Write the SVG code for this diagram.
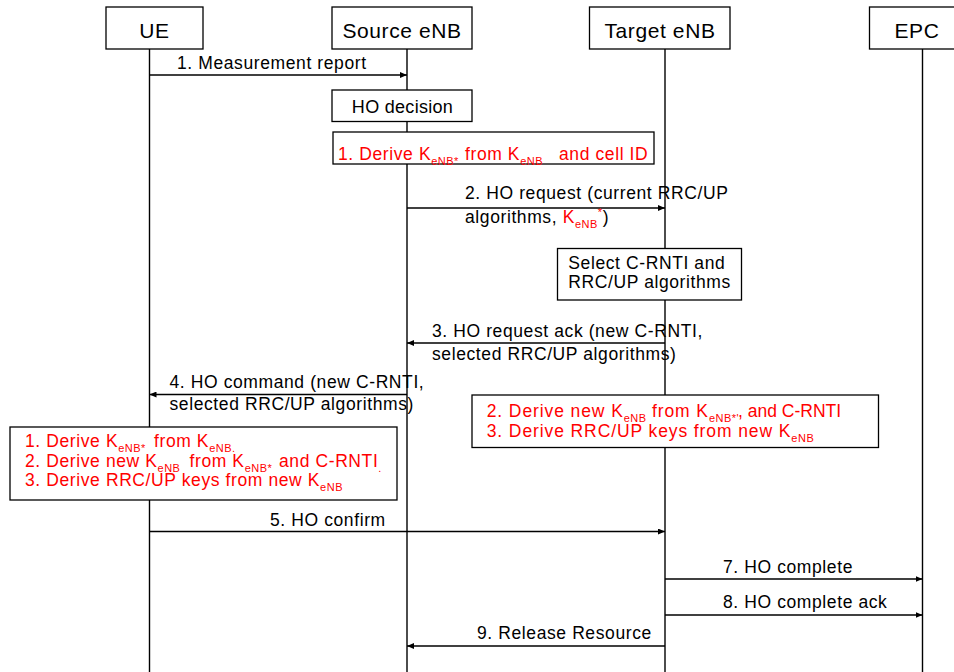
<svg xmlns="http://www.w3.org/2000/svg" width="954" height="672" viewBox="0 0 954 672">
  <defs>
    <marker id="ah" markerUnits="userSpaceOnUse" markerWidth="8" markerHeight="6" refX="7" refY="3" orient="auto">
      <path d="M0,0 L7,3 L0,6 z" fill="#000"/>
    </marker>
    <style>
      text { font-family: "Liberation Sans", Arial, Helvetica, sans-serif; fill: #000; }
      .lane { stroke: #000; stroke-width: 1.4; fill: none; }
      .box { fill: #fff; stroke: #000; stroke-width: 1.3; }
      .msg { stroke: #000; stroke-width: 1.4; fill: none; marker-end: url(#ah); }
      .hdr { font-size: 21px; letter-spacing: 0.6px; text-anchor: middle; }
      .lbl { font-size: 17.5px; letter-spacing: 0.6px; }
      .red { fill: #ff0000; }
      .sub { font-size: 11px; letter-spacing: 0.5px; }
    </style>
  </defs>
  <rect width="954" height="672" fill="#fff"/>

  <!-- lifelines -->
  <g id="lifelines">
    <line class="lane" x1="149.5" y1="49" x2="149.5" y2="672"/>
    <line class="lane" x1="407" y1="49" x2="407" y2="672"/>
    <line class="lane" x1="665" y1="49" x2="665" y2="672"/>
    <line class="lane" x1="922.5" y1="49" x2="922.5" y2="672"/>
  </g>

  <!-- messages -->
  <g id="connectors">
    <line class="msg" x1="149.5" y1="75" x2="407" y2="75"/>
    <line class="msg" x1="407" y1="208" x2="665" y2="208"/>
    <line class="msg" x1="665" y1="343" x2="407" y2="343"/>
    <line class="msg" x1="407" y1="394.5" x2="149.5" y2="394.5"/>
    <line class="msg" x1="149.5" y1="531.5" x2="665" y2="531.5"/>
    <line class="msg" x1="665" y1="579" x2="922.5" y2="579"/>
    <line class="msg" x1="665" y1="615" x2="922.5" y2="615"/>
    <line class="msg" x1="665" y1="646" x2="407" y2="646"/>
  </g>

  <!-- message labels -->
  <g id="labels">
    <text class="lbl" x="177" y="68.5">1. Measurement report</text>
    <text class="lbl" x="465" y="198.5">2. HO request (current RRC/UP</text>
    <text class="lbl" y="223"><tspan x="465">algorithms, </tspan><tspan class="red">K</tspan><tspan class="red sub" y="228">eNB</tspan><tspan class="red sub" y="216">*</tspan><tspan y="223">)</tspan></text>
    <text class="lbl" x="432" y="336.5">3. HO request ack (new C-RNTI,</text>
    <text class="lbl" x="432" y="359.5">selected RRC/UP algorithms)</text>
    <text class="lbl" x="169.5" y="388.3">4. HO command (new C-RNTI,</text>
    <text class="lbl" x="169.5" y="410">selected RRC/UP algorithms)</text>
    <text class="lbl" x="270" y="526">5. HO confirm</text>
    <text class="lbl" x="723" y="572.7">7. HO complete</text>
    <text class="lbl" x="723" y="608.3">8. HO complete ack</text>
    <text class="lbl" x="477" y="639.3">9. Release Resource</text>
  </g>

  <!-- entity headers -->
  <g id="ue">
    <rect class="box" x="106" y="7" width="97" height="42"/>
    <text class="hdr" x="154.5" y="37.5">UE</text>
  </g>
  <g id="source-enb">
    <rect class="box" x="332" y="7" width="140" height="42"/>
    <text class="hdr" x="402" y="37.5">Source eNB</text>
  </g>
  <g id="target-enb">
    <rect class="box" x="589.5" y="7" width="140.5" height="42"/>
    <text class="hdr" x="660" y="37.5">Target eNB</text>
  </g>
  <g id="epc">
    <rect class="box" x="869.5" y="7" width="110" height="42"/>
    <text class="hdr" x="917" y="37.5">EPC</text>
  </g>

  <!-- processing steps -->
  <g id="ho-decision">
    <rect class="box" x="332" y="90" width="140" height="31.5"/>
    <text class="lbl" x="402.5" y="112.5" text-anchor="middle" style="font-size:18px;letter-spacing:0.3px">HO decision</text>
  </g>

  <g id="source-key-derivation">
    <rect class="box" x="333" y="132" width="321" height="32"/>
    <text class="lbl red" y="160">
      <tspan x="338">1. Derive K</tspan><tspan class="sub" y="165">eNB*</tspan>
      <tspan x="465" y="160">from K</tspan><tspan class="sub" y="165">eNB</tspan>
      <tspan x="559" y="160">and cell ID</tspan>
    </text>
  </g>

  <g id="select-crnti">
    <rect class="box" x="557.5" y="248.5" width="184" height="51.5"/>
    <text class="lbl" x="568.3" y="269">Select C-RNTI and</text>
    <text class="lbl" x="568.3" y="288">RRC/UP algorithms</text>
  </g>

  <g id="target-key-derivation">
    <rect class="box" x="472" y="395" width="406.5" height="52.5"/>
    <text class="lbl red" y="416.7" style="letter-spacing:0.9px">
      <tspan x="486.7">2. Derive new K</tspan><tspan class="sub" y="421.7">eNB</tspan>
      <tspan x="652" y="416.7">from K</tspan><tspan class="sub" y="421.7">eNB*'</tspan><tspan x="738" y="416.7" style="letter-spacing:0">, and C-RNTI</tspan>
    </text>
    <text class="lbl red" y="436.7" style="letter-spacing:0.9px">
      <tspan x="486.7">3. Derive RRC/UP keys from new K</tspan><tspan class="sub" y="441.7">eNB</tspan>
    </text>
  </g>

  <g id="ue-key-derivation">
    <rect class="box" x="10" y="427" width="387" height="73"/>
    <text class="lbl red" y="446.7">
      <tspan x="25">1. Derive K</tspan><tspan class="sub" y="451.5">eNB*</tspan>
      <tspan x="154" y="446.7">from K</tspan><tspan class="sub" y="451.5">eNB.</tspan>
    </text>
    <text class="lbl red" y="466.7">
      <tspan x="25">2. Derive new K</tspan><tspan class="sub" y="471.5">eNB</tspan>
      <tspan x="189.5" y="466.7">from K</tspan><tspan class="sub" y="471.5">eNB*</tspan>
      <tspan x="279" y="466.7">and C-RNTI</tspan><tspan class="sub" y="471.5">.</tspan>
    </text>
    <text class="lbl red" y="485.7">
      <tspan x="25">3. Derive RRC/UP keys from new K</tspan><tspan class="sub" y="490.5">eNB</tspan>
    </text>
  </g>
</svg>
